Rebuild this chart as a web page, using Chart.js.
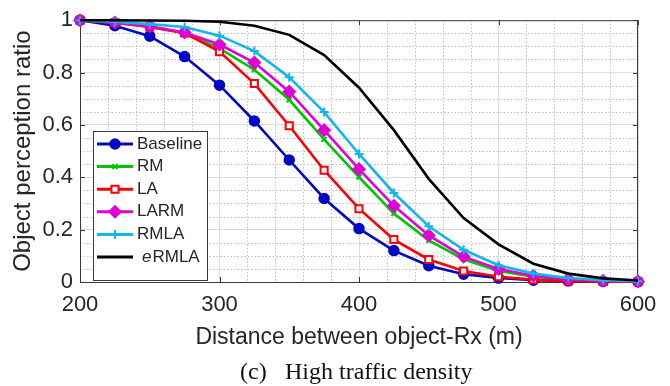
<!DOCTYPE html>
<html>
<head>
<meta charset="utf-8">
<script src="https://cdn.jsdelivr.net/npm/chart.js"></script>
<style>
  html, body { margin: 0; padding: 0; background: #fff; }
  canvas { display: block; }
</style>
</head>
<body>
<canvas id="perceptionChart" width="670" height="386"></canvas>
<script>
  // distance between object and Rx (m)
  const distances = [200, 225, 250, 275, 300, 325, 350, 375, 400, 425, 450, 475, 500, 525, 550, 575, 600];

  const baseline = [1.0, 0.979, 0.939, 0.861, 0.752, 0.615, 0.466, 0.319, 0.204, 0.12, 0.062, 0.03, 0.015, 0.007, 0.004, 0.002, 0.001];
  const rm = [1.0, 0.99, 0.975, 0.95, 0.892, 0.811, 0.696, 0.545, 0.401, 0.262, 0.159, 0.087, 0.042, 0.02, 0.009, 0.004, 0.002];
  const la = [1.0, 0.99, 0.974, 0.951, 0.88, 0.758, 0.597, 0.427, 0.28, 0.162, 0.086, 0.042, 0.02, 0.009, 0.004, 0.002, 0.001];
  const larm = [1.0, 0.991, 0.977, 0.953, 0.907, 0.838, 0.727, 0.58, 0.431, 0.291, 0.178, 0.097, 0.05, 0.024, 0.011, 0.005, 0.002];
  const rmla = [1.0, 0.994, 0.985, 0.974, 0.941, 0.882, 0.782, 0.649, 0.489, 0.34, 0.213, 0.123, 0.064, 0.032, 0.015, 0.007, 0.003];
  const ermla = [1.0, 1.0, 0.999, 0.998, 0.994, 0.979, 0.944, 0.867, 0.742, 0.58, 0.394, 0.244, 0.144, 0.07, 0.032, 0.014, 0.006];

  const seriesNames = ["Baseline", "RM", "LA", "LARM", "RMLA", "eRMLA"];
  const xTickStep = 100;
  const yTickStep = 0.2;
  const caption = ["(c)", "High traffic density"];

  const textColor = "#262626";
  const sans = "'Liberation Sans', Arial, sans-serif";

  function series(label, data, color, pointStyle, radius, extra) {
    return Object.assign({
      label: label,
      data: data,
      borderColor: color,
      backgroundColor: color,
      pointBorderColor: color,
      pointBackgroundColor: color,
      borderWidth: 2.6,
      pointStyle: pointStyle,
      pointRadius: radius,
      pointBorderWidth: 1.5,
      tension: 0,
      clip: false
    }, extra || {});
  }

  const datasets = [
    series(seriesNames[0], baseline, "#0008c4", "circle", 5, {order: 5}),
    series(seriesNames[1], rm, "#00c400", "crossRot", 3.5, {order: 4, pointBorderWidth: 2}),
    series(seriesNames[2], la, "#ff0000", "rect", 5, {order: 3, pointBackgroundColor: "#ffffff", pointBorderWidth: 2}),
    series(seriesNames[3], larm, "#e000d8", "rectRot", 6, {order: 2}),
    series(seriesNames[4], rmla, "#12b6ea", "cross", 4.5, {order: 1, pointBorderWidth: 2}),
    series(seriesNames[5], ermla, "#000000", "circle", 0, {order: 0})
  ];

  // minor dotted grid + box with inward ticks
  const frame = {
    id: "frame",
    beforeDatasetsDraw(chart) {
      const {ctx, chartArea: a, scales: {x, y}} = chart;
      ctx.save();
      ctx.strokeStyle = "#bfbfbf";
      ctx.lineWidth = 1;
      ctx.setLineDash([1.5, 2]);
      for (let v = x.min + 20; v < x.max; v += 20) {
        if (v % 100 === 0) continue;
        const px = Math.round(x.getPixelForValue(v)) + 0.5;
        ctx.beginPath(); ctx.moveTo(px, a.top); ctx.lineTo(px, a.bottom); ctx.stroke();
      }
      for (let i = 1; i < 20; i++) {
        if (i % 4 === 0) continue;
        const py = Math.round(y.getPixelForValue(i * 0.05)) + 0.5;
        ctx.beginPath(); ctx.moveTo(a.left, py); ctx.lineTo(a.right, py); ctx.stroke();
      }
      ctx.setLineDash([]);
      ctx.strokeStyle = "#3a3a3a";
      ctx.strokeRect(a.left + 0.5, a.top + 0.5, a.right - a.left - 1, a.bottom - a.top);
      ctx.beginPath();
      x.ticks.forEach(t => {
        const px = Math.round(x.getPixelForValue(t.value)) + 0.5;
        ctx.moveTo(px, a.bottom); ctx.lineTo(px, a.bottom - 5);
        ctx.moveTo(px, a.top); ctx.lineTo(px, a.top + 5);
      });
      y.ticks.forEach(t => {
        const py = Math.round(y.getPixelForValue(t.value)) + 0.5;
        ctx.moveTo(a.left, py); ctx.lineTo(a.left + 5, py);
        ctx.moveTo(a.right, py); ctx.lineTo(a.right - 5, py);
      });
      ctx.stroke();
      ctx.restore();
    }
  };

  function marker(ctx, ds, cx, cy) {
    if (!ds.pointRadius) return;
    ctx.fillStyle = ds.pointBackgroundColor;
    ctx.strokeStyle = ds.pointBorderColor;
    ctx.lineWidth = ds.pointBorderWidth;
    if (Chart.helpers && Chart.helpers.drawPoint) {
      Chart.helpers.drawPoint(ctx, {pointStyle: ds.pointStyle, radius: ds.pointRadius, rotation: 0, borderWidth: ds.pointBorderWidth}, cx, cy);
    } else {
      ctx.beginPath(); ctx.arc(cx, cy, ds.pointRadius, 0, Math.PI * 2); ctx.fill(); ctx.stroke();
    }
  }

  // legend box inside the axes, plus the figure caption
  const boxLegend = {
    id: "boxLegend",
    afterDraw(chart) {
      const {ctx, chartArea: a} = chart;
      const left = a.left + 13, top = 131, w = 114, h = 149;
      ctx.save();
      ctx.fillStyle = "#ffffff";
      ctx.fillRect(left, top, w, h);
      ctx.strokeStyle = "#3a3a3a";
      ctx.lineWidth = 1;
      ctx.strokeRect(left + 0.5, top + 0.5, w, h);
      chart.data.datasets.forEach((ds, i) => {
        const cy = top + 13 + i * 22.6;
        ctx.strokeStyle = ds.borderColor;
        ctx.lineWidth = 3;
        ctx.beginPath(); ctx.moveTo(left + 4, cy); ctx.lineTo(left + 40, cy); ctx.stroke();
        marker(ctx, ds, left + 22, cy);
        ctx.fillStyle = textColor;
        ctx.textBaseline = "middle";
        ctx.textAlign = "left";
        if (ds.label === "eRMLA") {
          ctx.font = "italic 17px " + sans;
          ctx.fillText("e", left + 49, cy);
          const ew = ctx.measureText("e").width;
          ctx.font = "17px " + sans;
          ctx.fillText("RMLA", left + 49 + ew + 1, cy);
        } else {
          ctx.font = "17px " + sans;
          ctx.fillText(ds.label, left + 44, cy);
        }
      });
      ctx.fillStyle = "#111";
      ctx.font = "24px 'Liberation Serif', 'Times New Roman', serif";
      ctx.textBaseline = "middle";
      ctx.textAlign = "left";
      ctx.fillText(caption[0], 240, 373);
      ctx.fillText(caption[1], 285, 373);
      ctx.restore();
    }
  };

  new Chart(document.getElementById("perceptionChart"), {
    type: "line",
    data: { labels: distances, datasets: datasets },
    options: {
      responsive: false,
      animation: false,
      layout: { padding: { left: 0, right: 32, top: 14, bottom: 34 } },
      plugins: {
        legend: { display: false },
        tooltip: { enabled: false }
      },
      scales: {
        x: {
          type: "linear",
          min: 200,
          max: 600,
          afterFit(scale) { scale.height = 70; },
          ticks: { stepSize: xTickStep, padding: 10, color: textColor, font: { family: sans, size: 22 } },
          grid: { color: "#dcdcdc", drawTicks: false },
          border: { display: false },
          title: {
            display: true,
            text: "Distance between object-Rx (m)",
            color: textColor,
            font: { family: sans, size: 23 },
            padding: { top: 0, bottom: 1 }
          }
        },
        y: {
          min: 0,
          max: 1,
          afterFit(scale) { scale.width = 80; },
          ticks: {
            stepSize: yTickStep,
            padding: 7,
            color: textColor,
            font: { family: sans, size: 22 },
            callback: v => String(Number(v.toFixed(1)))
          },
          grid: { color: "#dcdcdc", drawTicks: false },
          border: { display: false },
          title: {
            display: true,
            text: "Object perception ratio",
            color: textColor,
            font: { family: sans, size: 24 },
            padding: { top: 9, bottom: 0 }
          }
        }
      }
    },
    plugins: [frame, boxLegend]
  });
</script>
</body>
</html>
